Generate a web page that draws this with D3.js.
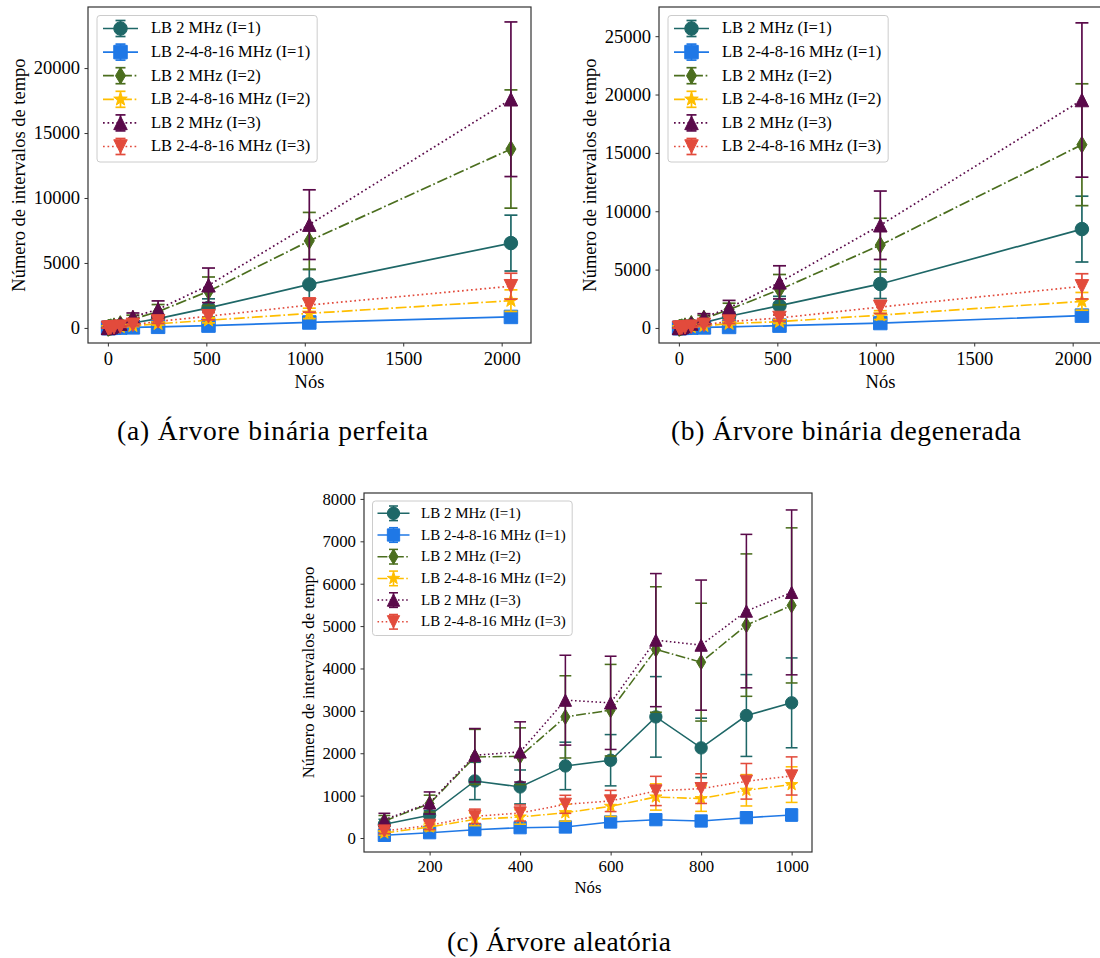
<!DOCTYPE html>
<html>
<head>
<meta charset="utf-8">
<script src="https://cdn.jsdelivr.net/npm/d3@7"></script>
<style>
  body { margin: 0; background: #ffffff; }
  svg { display: block; }
</style>
</head>
<body>
<svg id="fig" width="1100" height="958"></svg>
<script>
// ---------------- data ----------------
const seriesLabels = [
  "LB 2 MHz (I=1)",
  "LB 2-4-8-16 MHz (I=1)",
  "LB 2 MHz (I=2)",
  "LB 2-4-8-16 MHz (I=2)",
  "LB 2 MHz (I=3)",
  "LB 2-4-8-16 MHz (I=3)"
];

// node counts
const nosPerfeita = [1, 3, 7, 15, 31, 63, 127, 255, 511, 1023, 2047];
const nosDegenerada = [1, 3, 7, 15, 31, 63, 127, 255, 511, 1023, 2047];
const nosAleatoria = [100, 200, 300, 400, 500, 600, 700, 800, 900, 1000];

// (a) perfect binary tree: mean and standard deviation per series
const perfeitaMedia = [
  [0, 5, 15, 35, 80, 170, 380, 720, 1540, 3350, 6530],
  [0, 1, 3, 6, 12, 25, 45, 85, 180, 420, 846],
  [0, 10, 30, 60, 130, 300, 680, 1250, 2820, 6700, 13770],
  [0, 3, 8, 18, 35, 75, 160, 320, 590, 1120, 2100],
  [0, 10, 35, 70, 150, 330, 850, 1430, 3280, 7950, 17600],
  [0, 5, 12, 25, 50, 100, 240, 500, 900, 1760, 3210]
];
const perfeitaDesvio = [
  [0, 4, 10, 20, 40, 80, 150, 300, 700, 1150, 2150],
  [0, 1, 2, 3, 6, 10, 15, 25, 50, 80, 130],
  [0, 10, 25, 50, 90, 150, 300, 550, 1100, 2190, 4550],
  [0, 2, 5, 10, 20, 40, 60, 100, 200, 400, 830],
  [0, 10, 25, 50, 100, 200, 300, 650, 1330, 2680, 5950],
  [0, 3, 8, 15, 30, 50, 80, 150, 280, 550, 1000]
];

// (b) degenerate binary tree
const degeneradaMedia = [
  [0, 5, 18, 40, 100, 220, 450, 1000, 1910, 3770, 8470],
  [0, 1, 3, 6, 12, 25, 45, 86, 200, 420, 1055],
  [0, 10, 35, 70, 150, 350, 800, 1570, 3280, 7100, 15700],
  [0, 3, 8, 18, 40, 80, 180, 370, 542, 1100, 2280],
  [0, 10, 40, 80, 170, 380, 900, 1710, 3906, 8800, 19530],
  [0, 5, 14, 28, 55, 110, 270, 542, 855, 1790, 3564]
];
const degeneradaDesvio = [
  [0, 4, 10, 20, 40, 80, 150, 350, 800, 1250, 2820],
  [0, 1, 2, 3, 6, 10, 15, 30, 60, 90, 150],
  [0, 10, 25, 50, 100, 170, 280, 550, 1300, 2300, 5220],
  [0, 2, 5, 10, 20, 40, 60, 100, 160, 380, 760],
  [0, 10, 30, 60, 110, 200, 320, 650, 1420, 2930, 6610],
  [0, 3, 8, 15, 30, 50, 90, 160, 260, 560, 1080]
];

// (c) random tree
const aleatoriaMedia = [
  [323, 535, 1346, 1205, 1701, 1835, 2858, 2126, 2890, 3189],
  [63, 126, 197, 244, 260, 378, 433, 402, 480, 543],
  [401, 811, 1913, 1929, 2858, 3016, 4448, 4149, 5023, 5488],
  [118, 260, 441, 496, 598, 748, 968, 929, 1126, 1260],
  [433, 827, 1953, 2031, 3252, 3189, 4669, 4551, 5354, 5795],
  [165, 299, 512, 590, 795, 874, 1110, 1165, 1338, 1464]
];
const aleatoriaDesvio = [
  [120, 110, 440, 400, 560, 605, 950, 700, 965, 1060],
  [30, 40, 50, 60, 60, 80, 90, 80, 110, 140],
  [130, 200, 650, 670, 970, 1080, 1480, 1390, 1680, 1830],
  [50, 90, 150, 170, 200, 240, 310, 300, 370, 420],
  [150, 260, 630, 710, 1060, 1100, 1570, 1535, 1810, 1945],
  [60, 100, 170, 190, 213, 250, 345, 350, 420, 450]
];

// tick labels
const xTicksArvore = [0, 500, 1000, 1500, 2000];
const yTicksPerfeita = [0, 5000, 10000, 15000, 20000];
const yTicksDegenerada = [0, 5000, 10000, 15000, 20000, 25000];
const xTicksAleatoria = [200, 400, 600, 800, 1000];
const yTicksAleatoria = [0, 1000, 2000, 3000, 4000, 5000, 6000, 7000, 8000];

const xLabel = "Nós";
const yLabel = "Número de intervalos de tempo";
const captions = [
  "(a) Árvore binária perfeita",
  "(b) Árvore binária degenerada",
  "(c) Árvore aleatória"
];

// ---------------- styles ----------------
const seriesColors = ["#1e6767", "#1f78e6", "#4b6e1e", "#ffbe00", "#5a0a4a", "#e24b3c"];
const seriesMarkers = ["circle", "square", "thin_diamond", "star", "tri_up", "tri_down"];
const seriesDash = ["none", "none", "dashdot", "dashdot", "dotted", "dotted"];

const FONT = "'Liberation Serif', 'Times New Roman', serif";
const svg = d3.select("#fig");

function dashArray(kind, lw) {
  if (kind === "dashdot") return [6.4 * lw, 1.6 * lw, 1 * lw, 1.6 * lw].join(",");
  if (kind === "dotted") return [1 * lw, 1.65 * lw].join(",");
  return null;
}

function markerPath(kind, ms) {
  const h = ms / 2;
  switch (kind) {
    case "circle": return d3.symbol(d3.symbolCircle, Math.PI * h * h)();
    case "square": return `M${-h},${-h}H${h}V${h}H${-h}Z`;
    case "thin_diamond": {
      const hy = 0.62 * ms, hx = 0.6 * hy;
      return `M0,${-hy}L${hx},0L0,${hy}L${-hx},0Z`;
    }
    case "star": {
      const pts = [];
      for (let i = 0; i < 10; i++) {
        const r = i % 2 ? h * 0.42 : h * 1.05;
        const a = -Math.PI / 2 + i * Math.PI / 5;
        pts.push([r * Math.cos(a), r * Math.sin(a)]);
      }
      return "M" + pts.map(p => p.join(",")).join("L") + "Z";
    }
    case "tri_up": return `M0,${-h}L${h},${h}L${-h},${h}Z`;
    case "tri_down": return `M0,${h}L${h},${-h}L${-h},${-h}Z`;
  }
}

let clipCounter = 0;

function drawPanel(cfg) {
  const g = svg.append("g");
  const x = d3.scaleLinear().domain(cfg.xDomain).range([cfg.x0, cfg.x1]);
  const y = d3.scaleLinear().domain(cfg.yDomain).range([cfg.y1, cfg.y0]);
  const lw = 1.7 * cfg.s;
  const ms = 13.5 * cfg.s;
  const cap = 6.5 * cfg.s;

  const clipId = "clip" + (clipCounter++);
  g.append("clipPath").attr("id", clipId)
    .append("rect")
    .attr("x", cfg.x0).attr("y", cfg.y0)
    .attr("width", cfg.x1 - cfg.x0).attr("height", cfg.y1 - cfg.y0);

  const plot = g.append("g").attr("clip-path", `url(#${clipId})`);

  cfg.means.forEach((mean, si) => {
    const sd = cfg.sds[si];
    const col = seriesColors[si];
    const pts = cfg.xs.map((xv, i) => ({ x: xv, m: mean[i], e: sd[i] }));
    const sg = plot.append("g");

    // error bars
    const eb = sg.append("g").attr("stroke", col).attr("stroke-width", lw).attr("fill", "none");
    pts.forEach(p => {
      const px = x(p.x), yt = y(p.m + p.e), yb = y(p.m - p.e);
      eb.append("line").attr("x1", px).attr("x2", px).attr("y1", yt).attr("y2", yb);
      eb.append("line").attr("x1", px - cap).attr("x2", px + cap).attr("y1", yt).attr("y2", yt);
      eb.append("line").attr("x1", px - cap).attr("x2", px + cap).attr("y1", yb).attr("y2", yb);
    });

    // connecting line
    const line = d3.line().x(d => x(d.x)).y(d => y(d.m));
    sg.append("path").datum(pts)
      .attr("d", line)
      .attr("fill", "none")
      .attr("stroke", col)
      .attr("stroke-width", lw)
      .attr("stroke-dasharray", dashArray(seriesDash[si], lw));

    // markers
    const mp = markerPath(seriesMarkers[si], ms);
    sg.selectAll(null).data(pts).enter().append("path")
      .attr("d", mp)
      .attr("transform", d => `translate(${x(d.x)},${y(d.m)})`)
      .attr("fill", col)
      .attr("stroke", col)
      .attr("stroke-width", 1);
  });

  // frame
  g.append("rect")
    .attr("x", cfg.x0).attr("y", cfg.y0)
    .attr("width", cfg.x1 - cfg.x0).attr("height", cfg.y1 - cfg.y0)
    .attr("fill", "none").attr("stroke", "#333").attr("stroke-width", 1.2);

  // axes
  const xAxis = g.append("g").attr("transform", `translate(0,${cfg.y1})`)
    .call(d3.axisBottom(x).tickValues(cfg.xTicks).tickSize(3.5).tickPadding(cfg.xPad).tickFormat(d3.format("d")));
  const yAxis = g.append("g").attr("transform", `translate(${cfg.x0},0)`)
    .call(d3.axisLeft(y).tickValues(cfg.yTicks).tickSize(3.5).tickPadding(4.5).tickFormat(d3.format("d")));
  [xAxis, yAxis].forEach(a => {
    a.attr("font-family", null).attr("font-size", null);
    a.select(".domain").remove();
    a.selectAll(".tick line").attr("stroke", "#333").attr("stroke-width", 1);
    a.selectAll(".tick text").attr("fill", "#000")
      .style("font-family", FONT).style("font-size", cfg.tickFs + "px");
  });

  // axis labels
  g.append("text")
    .attr("x", (cfg.x0 + cfg.x1) / 2).attr("y", cfg.xLabelY)
    .attr("text-anchor", "middle")
    .style("font-family", FONT).style("font-size", cfg.labelFs + "px")
    .text(xLabel);
  g.append("text")
    .attr("transform", `translate(${cfg.yLabelX},${(cfg.y0 + cfg.y1) / 2}) rotate(-90)`)
    .attr("text-anchor", "middle")
    .style("font-family", FONT).style("font-size", cfg.labelFs + "px")
    .text(yLabel);

  // legend
  const L = cfg.legend;
  const lg = g.append("g");
  const box = lg.append("rect")
    .attr("x", L.x).attr("y", L.y).attr("height", L.h)
    .attr("rx", 3).attr("ry", 3)
    .attr("fill", "#fff").attr("fill-opacity", 0.8)
    .attr("stroke", "#cccccc").attr("stroke-width", 1);
  let maxRight = 0;
  seriesLabels.forEach((lab, si) => {
    const ry = L.row0 + si * L.dy;
    const col = seriesColors[si];
    const hx0 = L.hx0, hx1 = L.hx1, hm = (hx0 + hx1) / 2;
    lg.append("line").attr("x1", hx0).attr("x2", hx1).attr("y1", ry).attr("y2", ry)
      .attr("stroke", col).attr("stroke-width", lw)
      .attr("stroke-dasharray", dashArray(seriesDash[si], lw));
    const eh = L.eh, ec = L.ec;
    lg.append("line").attr("x1", hm).attr("x2", hm).attr("y1", ry - eh).attr("y2", ry + eh)
      .attr("stroke", col).attr("stroke-width", lw);
    [ry - eh, ry + eh].forEach(yy => lg.append("line")
      .attr("x1", hm - ec).attr("x2", hm + ec).attr("y1", yy).attr("y2", yy)
      .attr("stroke", col).attr("stroke-width", lw));
    lg.append("path").attr("d", markerPath(seriesMarkers[si], ms))
      .attr("transform", `translate(${hm},${ry})`)
      .attr("fill", col).attr("stroke", col).attr("stroke-width", 1);
    const t = lg.append("text")
      .attr("x", L.tx).attr("y", ry + 0.3 * L.fs)
      .style("font-family", FONT).style("font-size", L.fs + "px")
      .attr("fill", "#000")
      .text(lab);
    maxRight = Math.max(maxRight, L.tx + t.node().getComputedTextLength());
  });
  box.attr("width", maxRight + L.padR - L.x);

  // caption
  g.append("text")
    .attr("x", cfg.cap.x).attr("y", cfg.cap.y)
    .attr("textLength", cfg.cap.w).attr("lengthAdjust", "spacing")
    .style("font-family", FONT).style("font-size", cfg.cap.fs + "px")
    .attr("fill", "#000")
    .text(cfg.cap.text);
}

// (a)
drawPanel({
  xs: nosPerfeita, means: perfeitaMedia, sds: perfeitaDesvio,
  x0: 88, x1: 531, y0: 7, y1: 343,
  xDomain: [-101, 2149], yDomain: [-1160, 24700],
  xTicks: xTicksArvore, yTicks: yTicksPerfeita,
  s: 1, tickFs: 18.5, labelFs: 18.5, xPad: 5.5,
  xLabelY: 388, yLabelX: 25,
  legend: { x: 97, y: 15.5, h: 146.5, row0: 28.5, dy: 23.6, hx0: 103, hx1: 138, tx: 151, fs: 16.5, eh: 8, ec: 5, padR: 7 },
  cap: { text: captions[0], x: 117, y: 440, w: 311, fs: 27.5 }
});

// (b)
drawPanel({
  xs: nosDegenerada, means: degeneradaMedia, sds: degeneradaDesvio,
  x0: 659, x1: 1102, y0: 7, y1: 343,
  xDomain: [-101, 2149], yDomain: [-1290, 27500],
  xTicks: xTicksArvore, yTicks: yTicksDegenerada,
  s: 1, tickFs: 18.5, labelFs: 18.5, xPad: 5.5,
  xLabelY: 388, yLabelX: 596,
  legend: { x: 668, y: 15.5, h: 146.5, row0: 28.5, dy: 23.6, hx0: 674, hx1: 709, tx: 722, fs: 16.5, eh: 8, ec: 5, padR: 7 },
  cap: { text: captions[1], x: 671, y: 440, w: 350, fs: 27.5 }
});

// (c)
drawPanel({
  xs: nosAleatoria, means: aleatoriaMedia, sds: aleatoriaDesvio,
  x0: 364, x1: 812, y0: 493, y1: 852,
  xDomain: [55, 1045], yDomain: [-330, 8140],
  xTicks: xTicksAleatoria, yTicks: yTicksAleatoria,
  s: 0.91, tickFs: 16.8, labelFs: 16.8, xPad: 5,
  xLabelY: 893, yLabelX: 314,
  legend: { x: 372.5, y: 501, h: 134.5, row0: 513.3, dy: 21.7, hx0: 377.5, hx1: 409.5, tx: 421, fs: 15, eh: 7.3, ec: 4.5, padR: 6.5 },
  cap: { text: captions[2], x: 447, y: 951, w: 224, fs: 27.5 }
});
</script>
</body>
</html>
